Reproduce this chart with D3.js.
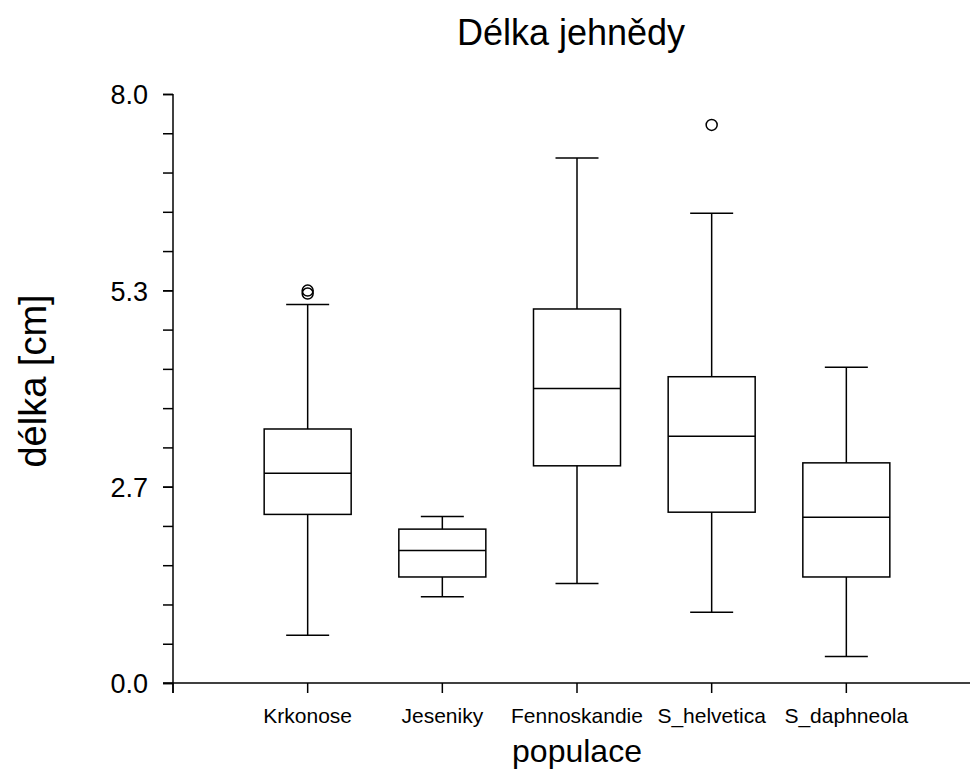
<!DOCTYPE html>
<html>
<head>
<meta charset="utf-8">
<script src="https://cdn.jsdelivr.net/npm/d3@7"></script>
<style>
	body { margin: 0; background: #fff; }
	text { font-family: "Liberation Sans", Arial, sans-serif; fill: #000; }
</style>
</head>
<body>
<script>
(function () {
	//chart data
	var populations = ["Krkonose", "Jeseniky", "Fennoskandie", "S_helvetica", "S_daphneola"];
	var whiskerLow = [0.65, 1.17, 1.35, 0.96, 0.36];
	var q1 = [2.29, 1.44, 2.95, 2.32, 1.44];
	var median = [2.85, 1.80, 4.00, 3.35, 2.25];
	var q3 = [3.45, 2.09, 5.08, 4.16, 2.99];
	var whiskerHigh = [5.14, 2.26, 7.13, 6.38, 4.29];
	var outliers = [[5.33, 5.29], [], [], [7.58], []];
	var yTicks = [0, 8 / 3, 16 / 3, 8];
	var yMinor = d3.range(16).map(function (i) { return i * 8 / 15; });

	var width = 971, height = 769;

	var svg = d3.select("body").append("svg")
		.attr("width", width)
		.attr("height", height);

	var x = d3.scaleLinear().domain([0, 6]).range([173, 981]);
	var y = d3.scaleLinear().domain([0, 8]).range([683, 94]);

	var boxW = 87, capW = 43;

	//y axis with minor ticks
	var yAxis = svg.append("g")
		.attr("transform", "translate(173,0)")
		.call(d3.axisLeft(y).tickValues(yMinor).tickSize(10).tickFormat(""));
	yAxis.select(".domain").remove();
	yAxis.selectAll("line").attr("stroke-width", 1.5);
	svg.append("g")
		.attr("transform", "translate(173,0)")
		.call(d3.axisLeft(y).tickValues(yTicks).tickSize(10).tickPadding(15).tickFormat(d3.format(".1f")))
		.call(function (g) {
			g.select(".domain").remove();
			g.selectAll("line").attr("stroke-width", 1.5);
			g.selectAll("text").style("font-size", "27px").attr("dy", "0.36em");
		});
	svg.append("line")
		.attr("x1", 173).attr("x2", 173)
		.attr("y1", y(8)).attr("y2", 693)
		.attr("stroke", "#000").attr("stroke-width", 1.5);

	//x axis
	svg.append("line")
		.attr("x1", 163).attr("x2", 970)
		.attr("y1", y(0)).attr("y2", y(0))
		.attr("stroke", "#000").attr("stroke-width", 1.5);
	svg.selectAll(".xtick")
		.data(d3.range(0, 6))
		.enter()
		.append("line")
		.attr("class", "xtick")
		.attr("x1", function (d) { return x(d); })
		.attr("x2", function (d) { return x(d); })
		.attr("y1", y(0)).attr("y2", y(0) + 10)
		.attr("stroke", "#000").attr("stroke-width", 1.5);
	svg.selectAll(".xlab")
		.data(populations)
		.enter()
		.append("text")
		.attr("class", "xlab")
		.attr("x", function (d, i) { return x(i + 1); })
		.attr("y", 723)
		.attr("text-anchor", "middle")
		.style("font-size", "21px")
		.text(function (d) { return d; });

	//boxes
	var g = svg.selectAll(".box")
		.data(populations)
		.enter()
		.append("g")
		.attr("class", "box")
		.attr("stroke", "#000")
		.attr("stroke-width", 1.5)
		.attr("fill", "none");

	g.append("line")
		.attr("x1", function (d, i) { return x(i + 1); })
		.attr("x2", function (d, i) { return x(i + 1); })
		.attr("y1", function (d, i) { return y(whiskerLow[i]); })
		.attr("y2", function (d, i) { return y(q1[i]); });
	g.append("line")
		.attr("x1", function (d, i) { return x(i + 1); })
		.attr("x2", function (d, i) { return x(i + 1); })
		.attr("y1", function (d, i) { return y(q3[i]); })
		.attr("y2", function (d, i) { return y(whiskerHigh[i]); });
	[whiskerLow, whiskerHigh].forEach(function (arr) {
		g.append("line")
			.attr("x1", function (d, i) { return x(i + 1) - capW / 2; })
			.attr("x2", function (d, i) { return x(i + 1) + capW / 2; })
			.attr("y1", function (d, i) { return y(arr[i]); })
			.attr("y2", function (d, i) { return y(arr[i]); });
	});
	g.append("rect")
		.attr("x", function (d, i) { return x(i + 1) - boxW / 2; })
		.attr("width", boxW)
		.attr("y", function (d, i) { return y(q3[i]); })
		.attr("height", function (d, i) { return y(q1[i]) - y(q3[i]); });
	g.append("line")
		.attr("x1", function (d, i) { return x(i + 1) - boxW / 2; })
		.attr("x2", function (d, i) { return x(i + 1) + boxW / 2; })
		.attr("y1", function (d, i) { return y(median[i]); })
		.attr("y2", function (d, i) { return y(median[i]); });
	g.each(function (d, i) {
		d3.select(this).selectAll("circle")
			.data(outliers[i])
			.enter()
			.append("circle")
			.attr("cx", x(i + 1))
			.attr("cy", function (v) { return y(v); })
			.attr("r", 5.5);
	});

	//titles
	svg.append("text")
		.attr("x", 571).attr("y", 45)
		.attr("text-anchor", "middle")
		.style("font-size", "36px")
		.text("Délka jehnědy");
	svg.append("text")
		.attr("transform", "translate(46,381) rotate(-90)")
		.attr("text-anchor", "middle")
		.style("font-size", "38px")
		.text("délka [cm]");
	svg.append("text")
		.attr("x", 577).attr("y", 762)
		.attr("text-anchor", "middle")
		.style("font-size", "32px")
		.text("populace");
})();
</script>
</body>
</html>
